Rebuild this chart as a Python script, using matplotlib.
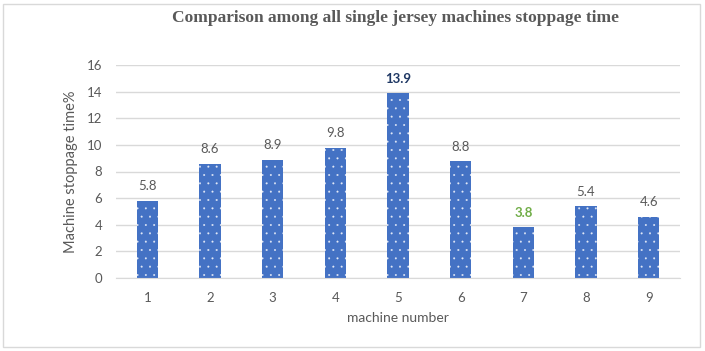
import matplotlib
matplotlib.use("Agg")
import matplotlib.pyplot as plt
from matplotlib.patches import Rectangle

machines = [1, 2, 3, 4, 5, 6, 7, 8, 9]
stoppage = [5.8, 8.6, 8.9, 9.8, 13.9, 8.8, 3.8, 5.4, 4.6]
yticks = [0, 2, 4, 6, 8, 10, 12, 14, 16]
title = "Comparison among all single jersey machines stoppage time"
xlabel = "machine number"
ylabel = "Machine stoppage time%"

plt.rcParams['font.family'] = ['Lato', 'DejaVu Sans']
plt.rcParams['hatch.color'] = '#E4EAF7'
plt.rcParams['hatch.linewidth'] = 0.2

gray = '#595959'
fig = plt.figure(figsize=(7.05, 3.51), dpi=100)
ax = fig.add_axes([116/705, 1-278/351, 564/705, 213/351])

bars = ax.bar(machines, stoppage, width=0.34, color='#4472C4', hatch='..', linewidth=0)

for m, v in zip(machines, stoppage):
    if v == max(stoppage):
        c, w = '#1F3864', 'bold'
    elif v == min(stoppage):
        c, w = '#70AD47', 'bold'
    else:
        c, w = gray, 'normal'
    ax.annotate(f"{v:.1f}", (m, v), xytext=(0, 6), textcoords='offset points',
                ha='center', va='bottom', fontsize=9.5, color=c, fontweight=w)

ax.set_xlim(0.5, 9.5)
ax.set_ylim(0, 16)
ax.set_yticks(yticks)
ax.set_xticks(machines)
ax.tick_params(length=0, labelsize=9.5, labelcolor=gray, pad=10)
ax.grid(axis='y', color='#D9D9D9', linewidth=1)
ax.set_axisbelow(True)
for s in ['top', 'right', 'left']:
    ax.spines[s].set_visible(False)
ax.spines['bottom'].set_color('#D9D9D9')

ax.set_xlabel(xlabel, fontsize=10, color=gray, labelpad=6)
ax.set_ylabel(ylabel, fontsize=10.5, color=gray, labelpad=6)

fig.text(396/705, 1-18/351, title, ha='center', va='center',
         fontsize=12.5, fontweight='bold', color=gray, family='Liberation Serif')

fig.patches.append(Rectangle((3/705, 4/351), 697/705, 343/351, transform=fig.transFigure,
                             fill=False, edgecolor='#D9D9D9', linewidth=1))

fig.savefig('out.png', dpi=100)
